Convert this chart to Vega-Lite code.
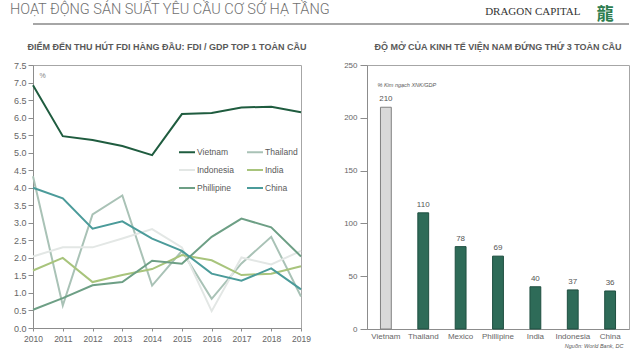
{
  "$schema": "https://vega.github.io/schema/vega-lite/v6.json",
  "padding": {"left": 9, "top": 0, "right": 0, "bottom": 0},
  "background": "white",
  "config": {
    "font": "Liberation Sans",
    "view": {"stroke": "#a6a6a6"},
    "axis": {"domainColor": "#8c8c8c", "tickColor": "#8c8c8c", "labelColor": "#666666", "grid": false}
  },
  "spacing": 16,
  "vconcat": [
    {
      "width": 596,
      "height": 23,
      "view": {"stroke": "#ffffff"},
      "title": {"text": "HOẠT ĐỘNG SẢN SUẤT YÊU CẦU CƠ SỞ HẠ TẦNG", "anchor": "start", "frame": "group", "dx": -23, "offset": -16, "font": "Roboto", "fontSize": 14.5, "fontWeight": 300, "color": "#707070"},
      "data": {"values": [{"logo": "龍"}]},
      "layer": [
        {
          "mark": {"type": "rule", "color": "#a6a6a6", "strokeWidth": 2},
          "encoding": {
            "y": {"datum": 0, "type": "quantitative", "scale": {"domain": [0, 1]}, "axis": null}
          }
        },
        {
          "mark": {"type": "text", "font": "Noto Sans CJK TC", "fontSize": 17, "fontWeight": "bold", "color": "#2e7d4f", "align": "center", "baseline": "middle"},
          "encoding": {
            "text": {"field": "logo"},
            "x": {"datum": 0.96, "type": "quantitative", "scale": {"domain": [0, 1]},
              "axis": {"domain": false, "ticks": false, "labels": false, "title": "DRAGON CAPITAL", "titleX": 547, "titleY": -10, "titleAlign": "right", "titleBaseline": "alphabetic", "titleFont": "Liberation Serif", "titleFontSize": 11, "titleFontWeight": "normal", "titleColor": "#333333"}},
            "y": {"datum": 0.4, "type": "quantitative"}
          }
        }
      ]
    },
    {
      "spacing": 32,
      "hconcat": [
        {
          "width": 268,
          "height": 263,
          "title": {"text": "ĐIỂM ĐẾN THU HÚT FDI HÀNG ĐẦU: FDI / GDP TOP 1 TOÀN CẦU", "fontSize": 9, "fontWeight": "bold", "color": "#595959", "anchor": "middle", "offset": 9},
          "data": {"values": [
            {"country": "Vietnam", "year": 2010, "value": 6.92}, {"country": "Vietnam", "year": 2011, "value": 5.47}, {"country": "Vietnam", "year": 2012, "value": 5.36}, {"country": "Vietnam", "year": 2013, "value": 5.19}, {"country": "Vietnam", "year": 2014, "value": 4.93}, {"country": "Vietnam", "year": 2015, "value": 6.1}, {"country": "Vietnam", "year": 2016, "value": 6.13}, {"country": "Vietnam", "year": 2017, "value": 6.29}, {"country": "Vietnam", "year": 2018, "value": 6.31}, {"country": "Vietnam", "year": 2019, "value": 6.15},
            {"country": "Thailand", "year": 2010, "value": 4.33}, {"country": "Thailand", "year": 2011, "value": 0.64}, {"country": "Thailand", "year": 2012, "value": 3.24}, {"country": "Thailand", "year": 2013, "value": 3.78}, {"country": "Thailand", "year": 2014, "value": 1.21}, {"country": "Thailand", "year": 2015, "value": 2.2}, {"country": "Thailand", "year": 2016, "value": 0.83}, {"country": "Thailand", "year": 2017, "value": 1.84}, {"country": "Thailand", "year": 2018, "value": 2.6}, {"country": "Thailand", "year": 2019, "value": 0.9},
            {"country": "Indonesia", "year": 2010, "value": 2.04}, {"country": "Indonesia", "year": 2011, "value": 2.3}, {"country": "Indonesia", "year": 2012, "value": 2.3}, {"country": "Indonesia", "year": 2013, "value": 2.55}, {"country": "Indonesia", "year": 2014, "value": 2.82}, {"country": "Indonesia", "year": 2015, "value": 2.3}, {"country": "Indonesia", "year": 2016, "value": 0.48}, {"country": "Indonesia", "year": 2017, "value": 2.01}, {"country": "Indonesia", "year": 2018, "value": 1.81}, {"country": "Indonesia", "year": 2019, "value": 2.2},
            {"country": "India", "year": 2010, "value": 1.64}, {"country": "India", "year": 2011, "value": 2.0}, {"country": "India", "year": 2012, "value": 1.31}, {"country": "India", "year": 2013, "value": 1.51}, {"country": "India", "year": 2014, "value": 1.68}, {"country": "India", "year": 2015, "value": 2.08}, {"country": "India", "year": 2016, "value": 1.93}, {"country": "India", "year": 2017, "value": 1.51}, {"country": "India", "year": 2018, "value": 1.55}, {"country": "India", "year": 2019, "value": 1.76},
            {"country": "Phillipine", "year": 2010, "value": 0.52}, {"country": "Phillipine", "year": 2011, "value": 0.85}, {"country": "Phillipine", "year": 2012, "value": 1.22}, {"country": "Phillipine", "year": 2013, "value": 1.31}, {"country": "Phillipine", "year": 2014, "value": 1.92}, {"country": "Phillipine", "year": 2015, "value": 1.83}, {"country": "Phillipine", "year": 2016, "value": 2.6}, {"country": "Phillipine", "year": 2017, "value": 3.12}, {"country": "Phillipine", "year": 2018, "value": 2.87}, {"country": "Phillipine", "year": 2019, "value": 2.04},
            {"country": "China", "year": 2010, "value": 4.0}, {"country": "China", "year": 2011, "value": 3.7}, {"country": "China", "year": 2012, "value": 2.83}, {"country": "China", "year": 2013, "value": 3.04}, {"country": "China", "year": 2014, "value": 2.55}, {"country": "China", "year": 2015, "value": 2.2}, {"country": "China", "year": 2016, "value": 1.55}, {"country": "China", "year": 2017, "value": 1.35}, {"country": "China", "year": 2018, "value": 1.7}, {"country": "China", "year": 2019, "value": 1.1}
          ]},
          "mark": {"type": "line", "strokeWidth": 2},
          "encoding": {
            "x": {"field": "year", "type": "quantitative", "scale": {"domain": [2010, 2019], "nice": false},
              "axis": {"values": [2010, 2011, 2012, 2013, 2014, 2015, 2016, 2017, 2018, 2019], "format": "d", "title": null, "tickSize": 3, "labelFontSize": 8.5, "labelPadding": 3, "labelFlush": false}},
            "y": {"field": "value", "type": "quantitative", "scale": {"domain": [0, 7.5], "nice": false},
              "axis": {"values": [0, 0.5, 1, 1.5, 2, 2.5, 3, 3.5, 4, 4.5, 5, 5.5, 6, 6.5, 7, 7.5], "format": ".1f", "tickSize": 5, "labelPadding": 2, "labelFontSize": 9, "minExtent": 23,
                "title": "%", "titleAngle": 0, "titleX": 6, "titleY": 12, "titleAlign": "left", "titleBaseline": "alphabetic", "titleFontSize": 7, "titleFontWeight": "normal", "titleColor": "#808080"}},
            "color": {"field": "country", "type": "nominal",
              "scale": {"domain": ["Vietnam", "Indonesia", "Phillipine", "Thailand", "India", "China"], "range": ["#1f5c3f", "#e3e7e5", "#6d9f85", "#a9c2b6", "#a8c47c", "#4b9b9a"]},
              "legend": {"orient": "none", "legendX": 145, "legendY": 142, "columns": 2, "title": null, "symbolType": "stroke", "symbolSize": 256, "symbolStrokeWidth": 2, "labelFontSize": 8.5, "labelColor": "#595959", "rowPadding": 4, "columnPadding": 9, "labelOffset": 1}},
            "strokeWidth": {"condition": {"test": "datum.country === 'Vietnam'", "value": 2.5}, "value": 1.8}
          }
        },
        {
          "width": 262,
          "height": 264,
          "title": {"text": "ĐỘ MỞ CỦA KINH TẾ VIỆN NAM ĐỨNG THỨ 3 TOÀN CẦU", "fontSize": 9, "fontWeight": "bold", "color": "#595959", "anchor": "middle", "offset": 9},
          "data": {"values": [
            {"country": "Vietnam", "value": 210}, {"country": "Thailand", "value": 110}, {"country": "Mexico", "value": 78}, {"country": "Phillipine", "value": 69}, {"country": "India", "value": 40}, {"country": "Indonesia", "value": 37}, {"country": "China", "value": 36}
          ]},
          "encoding": {
            "x": {"field": "country", "type": "nominal", "sort": null, "scale": {"paddingInner": 0.71, "paddingOuter": 0.36},
              "axis": {"labelAngle": 0, "ticks": false, "labelFontSize": 8, "labelPadding": 3,
                "title": "Nguồn: World Bank, DC", "titleX": 256, "titleY": 18, "titleAlign": "right", "titleBaseline": "alphabetic", "titleFontSize": 5.5, "titleFontStyle": "italic", "titleFontWeight": "normal", "titleColor": "#595959"}},
            "y": {"field": "value", "type": "quantitative", "scale": {"domain": [0, 250], "nice": false},
              "axis": {"values": [0, 50, 100, 150, 200, 250], "tickSize": 7, "labelPadding": 3, "labelFontSize": 8,
                "title": "% Kim ngạch XNK/GDP", "titleAngle": 0, "titleX": 10, "titleY": 21, "titleAlign": "left", "titleBaseline": "alphabetic", "titleFontSize": 5.5, "titleFontStyle": "italic", "titleFontWeight": "normal", "titleColor": "#595959"}}
          },
          "layer": [
            {"mark": {"type": "bar", "strokeWidth": 1},
              "encoding": {
                "color": {"condition": {"test": "datum.country === 'Vietnam'", "value": "#d9d9d9"}, "value": "#2e6b58"},
                "stroke": {"condition": {"test": "datum.country === 'Vietnam'", "value": "#808080"}, "value": "#1f4f40"}
              }},
            {"mark": {"type": "text", "dy": -4, "baseline": "bottom", "fontSize": 8, "color": "#555555"},
              "encoding": {"text": {"field": "value", "type": "quantitative"}}}
          ]
        }
      ]
    }
  ]
}
